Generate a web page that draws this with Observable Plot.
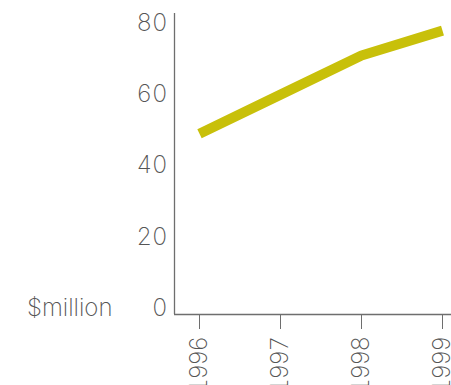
<!DOCTYPE html>
<html>
<head>
<meta charset="utf-8">
<script src="https://cdn.jsdelivr.net/npm/d3@7"></script>
<script src="https://cdn.jsdelivr.net/npm/@observablehq/plot@0.6"></script>
<style>
  html, body { margin: 0; padding: 0; background: #fff; }
  svg { display: block; }
  g[aria-label="x-axis tick label"] text { letter-spacing: -1.5px; }
</style>
</head>
<body>
<div id="chart"></div>
<script>
const years = [1996, 1997, 1998, 1999];
const values = [49, 60, 71, 78];
const yTicks = [0, 20, 40, 60, 80];
const unitLabel = "$million";

const data = years.map((year, i) => ({year, value: values[i]}));

const font = "Inter, Roboto, 'Liberation Sans', sans-serif";
const textColor = "#555";
const axisColor = "#6e6e6e";

const chart = Plot.plot({
  width: 451,
  height: 385,
  marginLeft: 174,
  marginRight: 0,
  marginTop: 13,
  marginBottom: 71,
  style: {fontFamily: font, fontSize: "24px", fontWeight: 200, color: textColor, background: "#fff"},
  x: {domain: [1996, 1999], insetLeft: 25, insetRight: 9},
  y: {domain: [0, 80], insetTop: 10, insetBottom: 6.5},
  marks: [
    Plot.ruleX([years[0]], {dx: -25, stroke: axisColor, strokeWidth: 1.3}),
    Plot.ruleY([0], {dy: 6.5, stroke: axisColor, strokeWidth: 1.3}),
    Plot.axisY({ticks: yTicks, tickSize: 0, tickPadding: 7, label: null, fill: textColor}),
    Plot.axisX({ticks: years, tickFormat: d => String(d), tickSize: 15, tickPadding: 8, tickRotate: -90, label: null, stroke: axisColor, fill: textColor}),
    Plot.text([unitLabel], {frameAnchor: "left", y: () => 0, textAnchor: "end", dx: -62, fill: textColor}),
    Plot.line(data, {x: "year", y: "value", stroke: "#c8c00a", strokeWidth: 10, strokeLinejoin: "round", strokeLinecap: "butt"})
  ]
});
document.getElementById("chart").appendChild(chart);
</script>
</body>
</html>
